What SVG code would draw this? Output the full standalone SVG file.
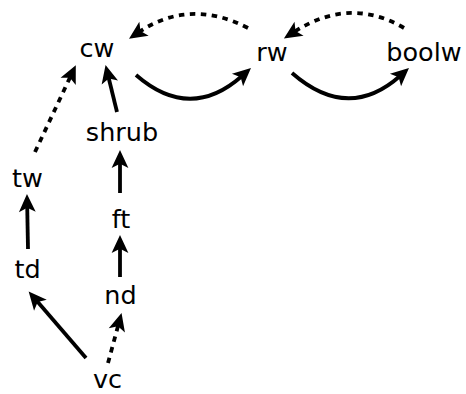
<svg xmlns="http://www.w3.org/2000/svg" width="466" height="394" viewBox="0 0 466 394">
<style>
text{font-family:"DejaVu Sans",sans-serif;font-size:25.5px;fill:#000;text-anchor:middle}
.e{fill:none;stroke:#000;stroke-width:3.8;marker-end:url(#ah)}
.d{stroke-dasharray:5.5,5.5}
</style>
<defs>
<marker id="ah" markerUnits="userSpaceOnUse" orient="auto" refX="0" refY="0" markerWidth="30" markerHeight="30" viewBox="-10 -10 25 20" overflow="visible">
<path d="M-5,-7 L10,0 L-5,7 L-1.5,0 z" fill="#000"/>
</marker>
</defs>
<rect width="466" height="394" fill="#fff"/>
<g id="edges">
<path class="e d" d="M248,28 Q190,-2 139,32"/>
<path class="e" d="M136,75 Q190,122 242,76"/>
<path class="e" d="M292,73 Q348,122 400,76"/>
<path class="e d" d="M404,28 Q350,-4 294,32"/>
<path class="e d" d="M35,152 L70.7,76"/>
<path class="e" d="M117,112 L108.4,76.7"/>
<path class="e" d="M120,193 L120,162"/>
<path class="e" d="M120,277 L120,247"/>
<path class="e" d="M28,249 L27.2,206"/>
<path class="e" d="M86,358 L36.5,300.6"/>
<path class="e d" d="M108,363 L118.4,324.6"/>
</g>
<g id="cw"><text x="97" y="57">cw</text></g>
<g id="rw"><text x="272" y="61">rw</text></g>
<g id="boolw"><text x="424" y="61">boolw</text></g>
<g id="shrub"><text x="122" y="141">shrub</text></g>
<g id="tw"><text x="27.5" y="187">tw</text></g>
<g id="ft"><text x="121" y="228">ft</text></g>
<g id="td"><text x="27.5" y="278">td</text></g>
<g id="nd"><text x="120.5" y="304">nd</text></g>
<g id="vc"><text x="107.5" y="388">vc</text></g>
</svg>
